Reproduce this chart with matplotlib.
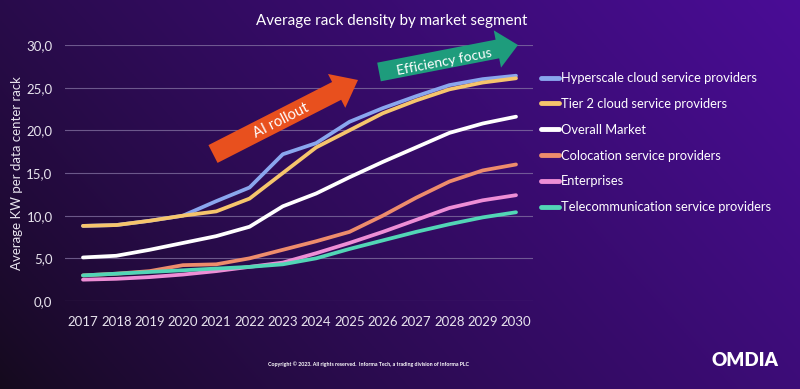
import numpy as np
import matplotlib
matplotlib.use("Agg")
import matplotlib.pyplot as plt
from matplotlib.patches import FancyArrow
from matplotlib.ticker import FuncFormatter

plt.rcParams['font.family'] = ['Lato', 'DejaVu Sans']

years = list(range(2017, 2031))

hyperscale = [8.8, 8.9, 9.4, 10.0, 11.7, 13.3, 17.2, 18.5, 21.0, 22.6, 24.0, 25.3, 26.0, 26.4]
tier2 = [8.8, 8.9, 9.4, 10.0, 10.5, 12.0, 15.0, 18.0, 20.0, 22.0, 23.5, 24.8, 25.6, 26.1]
overall = [5.1, 5.3, 6.0, 6.8, 7.6, 8.7, 11.1, 12.6, 14.5, 16.3, 18.0, 19.7, 20.8, 21.6]
colocation = [3.0, 3.2, 3.5, 4.2, 4.3, 5.0, 6.0, 7.0, 8.1, 10.0, 12.1, 14.0, 15.3, 16.0]
enterprises = [2.5, 2.6, 2.8, 3.1, 3.5, 4.0, 4.5, 5.6, 6.8, 8.1, 9.5, 10.9, 11.8, 12.4]
telecom = [3.0, 3.2, 3.4, 3.6, 3.8, 4.0, 4.3, 5.0, 6.1, 7.1, 8.1, 9.0, 9.8, 10.4]

series = [
    ("Hyperscale cloud service providers", hyperscale, "#8aa6ee"),
    ("Tier 2 cloud service providers", tier2, "#f6c56c"),
    ("Overall Market", overall, "#ffffff"),
    ("Colocation service providers", colocation, "#ee8c6c"),
    ("Enterprises", enterprises, "#ee8ed6"),
    ("Telecommunication service providers", telecom, "#52d6b6"),
]

fig = plt.figure(figsize=(8, 3.89), dpi=100)

# background gradient
bg = fig.add_axes([0, 0, 1, 1], zorder=-10)
xx, yy = np.meshgrid(np.linspace(0, 1, 400), np.linspace(0, 1, 200))
t = np.clip(0.7 * xx + 0.3 * (1 - yy), 0, 1)
dark = np.array([0.08, 0.04, 0.11])
bright = np.array([0.29, 0.05, 0.59])
img = dark + (bright - dark) * t[..., None] ** 0.8
bg.imshow(img, aspect='auto', extent=[0, 1, 0, 1], origin='upper')
bg.axis('off')

ax = fig.add_axes([65 / 800, 88 / 389, 468 / 800, 256 / 389])
ax.set_facecolor('none')
for name, vals, col in series:
    ax.plot(years, vals, color=col, lw=2.7, label=name, solid_capstyle='round')

ax.set_xlim(2016.46, 2030.51)
ax.set_ylim(0, 30)
ax.set_yticks([0, 5, 10, 15, 20, 25, 30])
ax.set_xticks(years)
ax.yaxis.set_major_formatter(FuncFormatter(lambda v, p: f"{v:.1f}".replace('.', ',')))
ax.grid(axis='y', color='#8a7aa8', lw=0.8, alpha=0.7)
ax.set_axisbelow(True)
for s in ax.spines.values():
    s.set_visible(False)
ax.tick_params(length=0, colors='#e8e4ee', labelsize=9.5)
ax.tick_params(axis='x', pad=11)
ax.tick_params(axis='y', pad=9)
ax.set_ylabel("Average KW per data center rack", color='#e8e4ee', fontsize=9.5, labelpad=2)

leg = ax.legend(loc='upper left', bbox_to_anchor=(471 / 468, 1 - 22 / 256), frameon=False,
                fontsize=9.3, labelcolor='white', handlelength=1.4, handletextpad=0.15,
                labelspacing=1.07, borderaxespad=0)
for ln in leg.get_lines():
    ln.set_linewidth(3.5)

# overlay in pixel coordinates for annotations
ov = fig.add_axes([0, 0, 1, 1], zorder=5)
ov.set_xlim(0, 800)
ov.set_ylim(389, 0)
ov.axis('off')

ov.add_patch(FancyArrow(213, 154, 145, -74, width=20, head_width=38, head_length=24,
                        length_includes_head=True, color='#e8501e', lw=0))
ov.text(281, 121, "AI rollout", rotation=27, color='white', fontsize=10.5,
        ha='center', va='center', rotation_mode='anchor')
ov.add_patch(FancyArrow(379, 72, 139, -27, width=19, head_width=38, head_length=21,
                        length_includes_head=True, color='#1e9c7c', lw=0))
ov.text(444, 62, "Efficiency focus", rotation=11, color='white', fontsize=10,
        ha='center', va='center', rotation_mode='anchor')

fig.text(392 / 800, 1 - 21 / 389, "Average rack density by market segment", color='white',
         fontsize=10.9, ha='center', va='center')
fig.text(369 / 800, 1 - 364 / 389,
         "Copyright \u00a9 2023. All rights reserved.  Informa Tech, a trading division of Informa PLC",
         color='white', fontsize=3.8, ha='center', va='center', fontweight='bold')
fig.text(745 / 800, 1 - 361 / 389, "OMDIA", color='white', fontsize=13.5, ha='center',
         va='center', fontweight='heavy')

fig.savefig("out.png", dpi=100)
